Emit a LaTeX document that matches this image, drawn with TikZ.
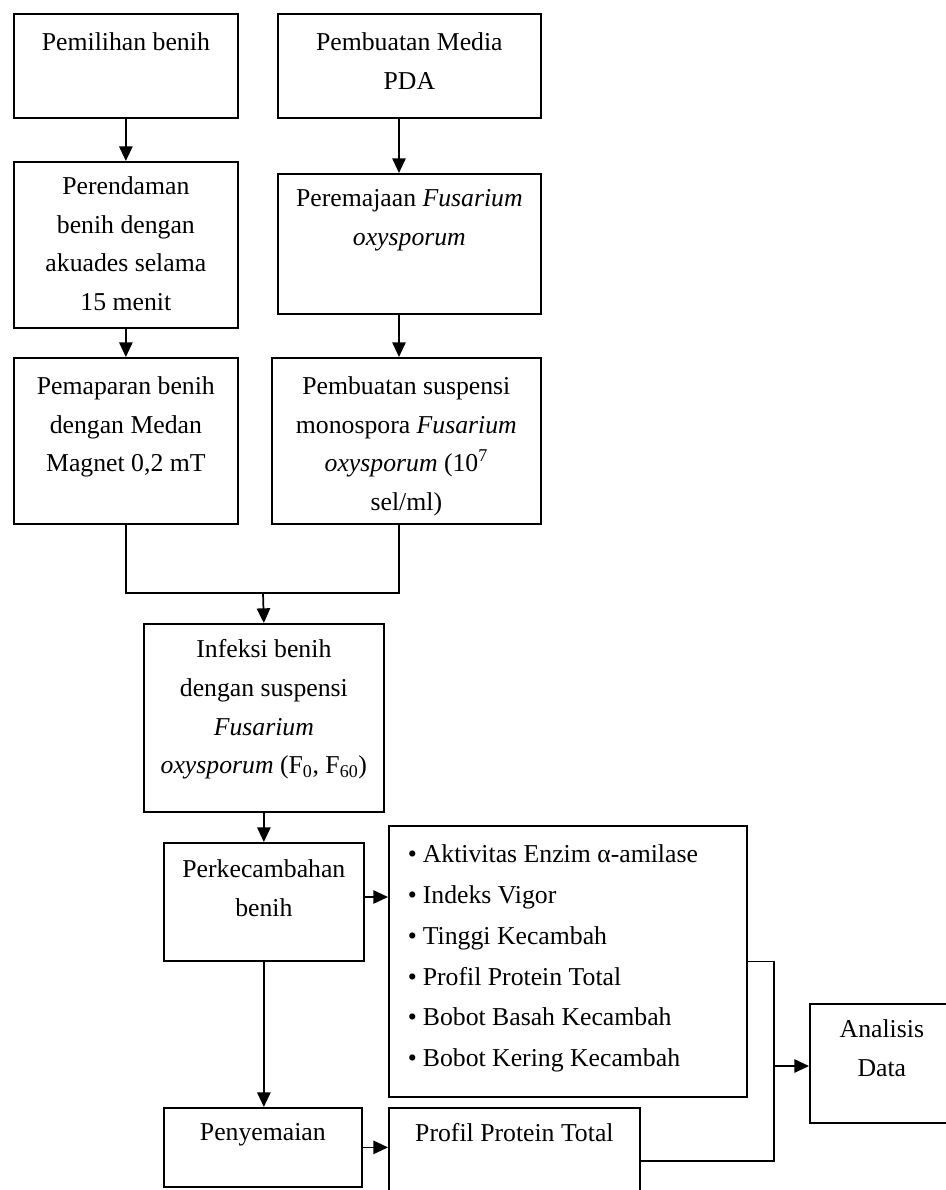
\documentclass[tikz,border=0pt]{standalone}
\usepackage{fontspec}
\setmainfont{Liberation Serif}
\usetikzlibrary{arrows.meta}
\newdimen\pxu \pxu=0.75pt
\newcommand{\bxt}[4]{\parbox[t][#2\pxu][t]{#1\pxu}{\centering\vspace*{#3\pxu}#4}}
\tikzset{
  bx/.style={draw, line width=1.3pt, inner sep=0pt, anchor=north west,
    font={\fontsize{19.3}{28.9}\selectfont}},
  conn/.style={line width=1.3pt},
  arr/.style={line width=1.3pt, -{Triangle[length=11pt,width=10pt]}}
}
\begin{document}
\begin{tikzpicture}[x=0.75pt,y=-0.75pt]
\useasboundingbox (0,0) rectangle (946,1190);
% left column
\node[bx] (b1) at (13,13) {\bxt{224}{104}{19}{Pemilihan benih}};
\node[bx] (b2) at (13,161) {\bxt{224}{166}{15}{Perendaman\\ benih dengan\\ akuades selama\\ 15 menit}};
\node[bx] (b3) at (13,357) {\bxt{224}{166}{19}{Pemaparan benih\\ dengan Medan\\ Magnet 0,2 mT}};
% right column
\node[bx] (r1) at (277,13) {\bxt{263}{104}{19}{Pembuatan Media\\ PDA}};
\node[bx] (r2) at (277,173) {\bxt{263}{140}{16}{Peremajaan \textit{Fusarium}\\ \textit{oxysporum}}};
\node[bx] (r3) at (271,357) {\bxt{269}{166}{19}{Pembuatan suspensi\\ monospora \textit{Fusarium}\\ \textit{oxysporum} (10\textsuperscript{7}\\ sel/ml)}};
% middle
\node[bx] (inf) at (143,623) {\bxt{240}{188}{16}{Infeksi benih\\ dengan suspensi\\ \textit{Fusarium}\\ \textit{oxysporum} (F\textsubscript{0}, F\textsubscript{60})}};
\node[bx] (perk) at (163,842) {\bxt{200}{118}{17}{Perkecambahan\\ benih}};
\node[bx] (bul) at (388,825) {\parbox[t][271\pxu][t]{358\pxu}{\raggedright\leftskip=19\pxu\vspace*{19\pxu}\baselineskip=30.6pt
•\hspace{6\pxu}Aktivitas Enzim α-amilase\\
•\hspace{6\pxu}Indeks Vigor\\
•\hspace{6\pxu}Tinggi Kecambah\\
•\hspace{6\pxu}Profil Protein Total\\
•\hspace{6\pxu}Bobot Basah Kecambah\\
•\hspace{6\pxu}Bobot Kering Kecambah}};
\node[bx] (pen) at (163,1107) {\bxt{198}{79}{16}{Penyemaian}};
\node[bx] (prof) at (388,1107) {\bxt{251}{106}{16}{Profil Protein Total}};
\node[bx] (ana) at (809,1003) {\bxt{144}{119}{16}{Analisis\\ Data}};
% helper coordinates
\coordinate (cx) at (399,0);
\coordinate (mj) at (263,593);
\coordinate (ay) at (0,897);
\coordinate (jx) at (774,0);
\coordinate (ja) at (774,1066);
% connectors
\draw[arr] (b1.south) -- (b2.north);
\draw[arr] (b2.south) -- (b3.north);
\draw[arr] (r1.south -| cx) -- (r2.north -| cx);
\draw[arr] (r2.south -| cx) -- (r3.north -| cx);
\draw[conn] (b3.south) -- (b3.south |- mj) -- (cx |- mj) -- (r3.south -| cx);
\draw[arr] (mj) -- (inf.north);
\draw[arr] (inf.south) -- (perk.north);
\draw[arr] (perk.east |- ay) -- (bul.west |- ay);
\draw[arr] (perk.south) -- (pen.north -| perk.south);
\draw[arr] (pen.east) -- (prof.west |- pen.east);
\draw[conn] (bul.east) -- (jx |- bul.east) -- (jx |- prof.east) -- (prof.east);
\draw[arr] (ja) -- (ana.west |- ja);
\end{tikzpicture}
\end{document}
